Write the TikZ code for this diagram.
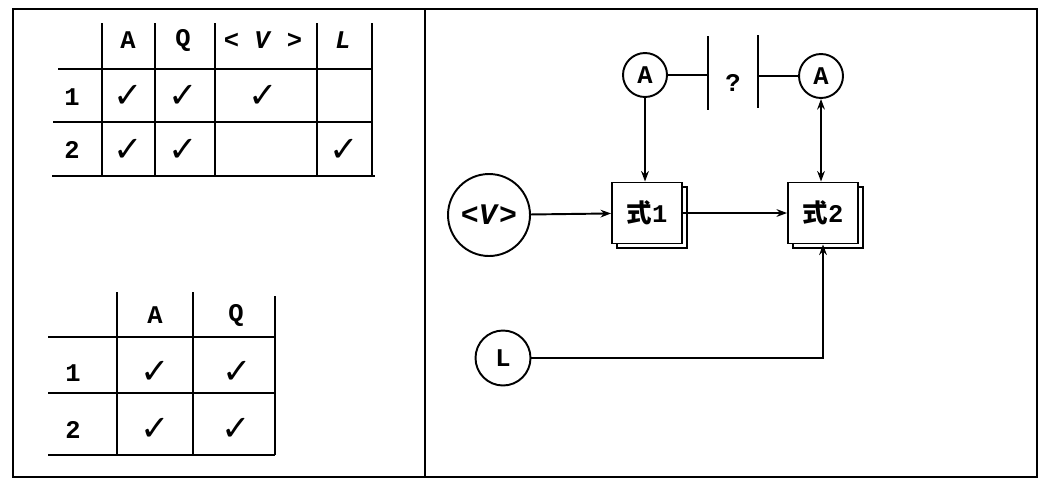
\documentclass[tikz,border=0pt]{standalone}
\usepackage{fontspec}
\setmainfont{Liberation Mono}
\newfontfamily\cjk{Noto Sans CJK SC}
\newfontfamily\symb{DejaVu Sans}
\usetikzlibrary{
    arrows.meta,
    shadows,
    positioning
}

\begin{document}
\begin{tikzpicture}[x=0.02cm, y=-0.02cm,
        every node/.style={font=\fontsize{14.5}{16}\selectfont\bfseries},
        frame/.style={line width=1.4pt},
        rule/.style={line width=1.3pt},
        conn/.style={line width=1.1pt, >={Stealth[length=6pt, width=4.4pt]}},
        tick/.style={font=\symb\fontsize{20}{22}\selectfont\bfseries},
        ring/.style={draw, circle, line width=1.1pt, inner sep=0pt, minimum size=0.88cm},
        sheet/.style={draw, fill=white, line width=1.1pt, inner sep=0pt,
            minimum width=1.4cm, minimum height=1.22cm,
            copy shadow={shadow xshift=2.8pt, shadow yshift=-2.8pt}}]
    \useasboundingbox (0, 0) rectangle (1040, 481);
    \draw[frame] (13, 9) rectangle (1037, 477);
    \draw[frame] (425, 9) -- (425, 477);

    % upper table
    \draw[rule] (102, 23) -- (102, 176) (155, 23) -- (155, 176) (215, 23) -- (215, 176)
        (317, 23) -- (317, 176) (372, 23) -- (372, 176);
    \draw[rule] (58, 69) -- (372, 69) (53, 122) -- (372, 122) (52, 176) -- (375, 176);
    \node (t1a) at (128, 40) {A};
    \node (t1q) at (183, 40) {Q};
    \node (t1v) at (263, 40) {< \textit{V} >};
    \node (t1l) at (343, 40) {\textit{L}};
    \node (t1r1) at (72, 97) {1};
    \node (t1r2) at (72, 150) {2};
    \node[tick] (t1c1a) at (128, 96) {✓};
    \node[tick] (t1c1q) at (183, 96) {✓};
    \node[tick] (t1c1v) at (263, 96) {✓};
    \node[tick] (t1c2a) at (128, 150) {✓};
    \node[tick] (t1c2q) at (183, 150) {✓};
    \node[tick] (t1c2l) at (344, 150) {✓};

    % lower table
    \draw[rule] (117, 292) -- (117, 455) (193, 292) -- (193, 455) (275, 296) -- (275, 455);
    \draw[rule] (48, 337) -- (275, 337) (48, 393) -- (275, 393) (48, 455) -- (275, 455);
    \node (t2a) at (155, 315) {A};
    \node (t2q) at (236, 315) {Q};
    \node (t2r1) at (73, 373) {1};
    \node (t2r2) at (73, 430) {2};
    \node[tick] (t2c1a) at (155, 372) {✓};
    \node[tick] (t2c1q) at (237, 372) {✓};
    \node[tick] (t2c2a) at (155, 429) {✓};
    \node[tick] (t2c2q) at (236, 429) {✓};

    % flow
    \node[ring] (a1) at (645, 75) {A};
    \node[ring] (a2) at (821, 76) {A};
    \node (ask) at (733, 83) {?};
    \coordinate (g1t) at (708, 36);
    \coordinate (g1b) at (708, 110);
    \coordinate (g2t) at (758, 35);
    \coordinate (g2b) at (758, 108);
    \node[ring, minimum size=1.64cm, font=\fontsize{17}{18}\selectfont\bfseries] (v) at (489, 215) {<\textit{V}>};
    \node[sheet] (f1) at (647, 213) {{\cjk\bfseries 式}1};
    \node[sheet] (f2) at (823, 213) {{\cjk\bfseries 式}2};
    \node[ring, minimum size=1.1cm] (l) at (503, 358) {L};
    \draw[conn]
    (g1t) edge (g1b)
    (g2t) edge (g2b)
    (a1) edge (a1 -| g1t)
    (a2) edge (a2 -| g2t)
    (v) edge[->] (f1)
    (a1) edge[->] (a1 |- f1.north)
    (f1) edge[->] (f2)
    (a2) edge[<->] (a2 |- f2.north);
    \draw[conn, ->] (l) -| (f2);
\end{tikzpicture}
\end{document}
